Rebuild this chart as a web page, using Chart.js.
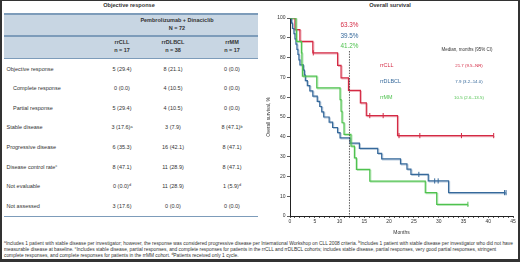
<!DOCTYPE html>
<html>
<head>
<meta charset="utf-8">
<script src="https://cdn.jsdelivr.net/npm/chart.js@4/dist/chart.umd.min.js"></script>
<style>
  html, body { margin: 0; padding: 0; background: #fff; }
  body { width: 520px; height: 262px; position: relative; overflow: hidden;
         font-family: "Liberation Sans", Arial, sans-serif; color: #333; }
  #frame { position: absolute; left: 0; top: 0; width: 520px; height: 262px; box-sizing: border-box;
           border-style: solid; border-color: #333; border-width: 1px 2px 3px 2px; }
  .t { position: absolute; white-space: nowrap; line-height: 1; }
  .band { position: absolute; left: 4px; width: 254px; background: #c8d6e3; }
  .rule { position: absolute; left: 4px; width: 254px; background: #7d9cba; }
  #chartWrap { position: absolute; left: 260px; top: 0; width: 258px; height: 240px; }
  #notes { position: absolute; left: 4px; top: 240.5px; font-size: 4.85px; line-height: 5px; white-space: nowrap; color: #333; }
  sup { font-size: 70%; vertical-align: 0; position: relative; top: -0.45em; }
</style>
</head>
<body>
<div id="frame"></div>

<div class="t" style="left:0;width:258px;text-align:center;top:3px;font-size:5.6px;font-weight:bold;">Objective response</div>
<div class="band" style="top:14px;height:45px;"></div>
<div class="rule" style="top:13px;height:1.5px;"></div>
<div class="rule" style="top:35px;height:1.5px;"></div>
<div class="rule" style="top:58px;height:1px;"></div>
<div class="rule" style="top:215.5px;height:1px;"></div>
<div id="table"></div>

<div class="t" style="left:262px;width:256px;text-align:center;top:3px;font-size:5.6px;font-weight:bold;">Overall survival</div>
<div id="chartWrap"><canvas id="km" width="258" height="240"></canvas></div>

<div id="notes">
<sup>a</sup>Includes 1 patient with stable disease per investigator; however, the response was considered progressive disease per International Workshop on CLL 2008 criteria. <sup>b</sup>Includes 1 patient with stable disease per investigator who did not have<br>
measurable disease at baseline. <sup>c</sup>Includes stable disease, partial responses, and complete responses for patients in the rrCLL and rrDLBCL cohorts; includes stable disease, partial responses, very good partial responses, stringent<br>
complete responses, and complete responses for patients in the rrMM cohort. <sup>d</sup>Patients received only 1 cycle.
</div>

<script>
// ---- table data ----
const cohorts = ['rrCLL', 'rrDLBCL', 'rrMM'];
const cohortN = ['n = 17', 'n = 38', 'n = 17'];
const rowLabels = ['Objective response', 'Complete response', 'Partial response', 'Stable disease',
  'Progressive disease', 'Disease control rate<sup>c</sup>', 'Not evaluable', 'Not assessed'];
const rowIndent = [0, 1, 1, 0, 0, 0, 0, 0];
const cllVals = ['5 (29.4)', '0 (0.0)', '5 (29.4)', '3 (17.6)<sup>a</sup>', '6 (35.3)', '8 (47.1)', '0 (0.0)<sup>d</sup>', '3 (17.6)'];
const dlbclVals = ['8 (21.1)', '4 (10.5)', '4 (10.5)', '3 (7.9)', '16 (42.1)', '11 (28.9)', '11 (28.9)', '0 (0.0)'];
const mmVals = ['0 (0.0)', '0 (0.0)', '0 (0.0)', '8 (47.1)<sup>b</sup>', '8 (47.1)', '8 (47.1)', '1 (5.9)<sup>d</sup>', '0 (0.0)'];

// ---- survival data (months, % surviving) ----
const cllMonths = [0, 1.0, 2.0, 4.6, 9.6, 10.3, 11.8, 14.2, 15.4, 21.7, 41.1];
const cllSurv   = [100, 94.1, 88.2, 82.4, 76.1, 69.8, 63.4, 57.1, 50.7, 40.6, 40.6];
const cllCensMonths = [4.7, 16.1, 18.8, 22.0, 26.2, 34.6, 41.1];
const cllCensSurv   = [82.4, 50.7, 50.7, 40.6, 40.6, 40.6, 40.6];

const dlbclMonths = [0, 0.3, 0.5, 0.8, 1.0, 1.2, 1.4, 1.6, 1.8, 2.0, 2.7, 2.9, 3.1, 3.5, 4.0, 4.6, 5.5, 6.0,
  6.4, 6.8, 7.9, 8.6, 9.6, 10.1, 12.1, 14.0, 17.7, 18.5, 22.3, 23.6, 24.4, 27.9, 32.0, 43.5];
const dlbclSurv   = [100, 97.4, 94.7, 92.1, 89.5, 86.8, 84.2, 81.6, 78.9, 76.3, 73.7, 71.1, 68.4, 65.8, 63.2, 60.5, 57.9, 55.3,
  52.6, 50.0, 47.4, 44.7, 42.1, 39.5, 36.8, 34.2, 31.6, 28.9, 26.3, 23.7, 21.0, 17.7, 11.8, 11.8];
const dlbclCensMonths = [26.0, 29.2, 29.9, 43.3, 43.6];
const dlbclCensSurv   = [21.0, 17.7, 17.7, 11.8, 11.8];

const mmMonths = [0, 1.2, 1.3, 2.3, 2.4, 2.5, 5.4, 10.1, 10.3, 10.5, 10.9, 12.3, 13.0, 13.4, 16.1, 27.3, 29.6, 35.9];
const mmSurv   = [100, 94.1, 88.2, 82.4, 76.5, 70.6, 64.7, 58.8, 52.9, 47.1, 41.2, 35.3, 29.4, 23.5, 17.6, 11.8, 5.9, 5.9];
const mmCensMonths = [35.9];
const mmCensSurv   = [5.9];

const landmark = 12;
const landmarkLabels = ['63.3%', '39.5%', '41.2%'];
const medians = ['21.7 (9.5–NR)', '7.9 (3.2–14.0)', '10.5 (2.6–13.5)'];

const colors = ['#d42a44', '#36699b', '#4fc24f'];
const shades = ['rgba(212,42,68,0.35)', 'rgba(54,105,155,0.35)', 'rgba(79,194,79,0.4)'];

// ---- build table ----
const tbl = document.getElementById('table');
function addText(html, x, y, opts) {
  const d = document.createElement('div');
  d.className = 't';
  d.innerHTML = html;
  d.style.top = y + 'px';
  d.style.fontSize = (opts.size || 5.5) + 'px';
  if (opts.bold) d.style.fontWeight = 'bold';
  if (opts.center) { d.style.left = (x - 40) + 'px'; d.style.width = '80px'; d.style.textAlign = 'center'; }
  else d.style.left = x + 'px';
  tbl.appendChild(d);
}
addText('Pembrolizumab + Dinaciclib', 177, 18, { center: true, bold: true });
addText('N = 72', 177, 26, { center: true, bold: true });
const colX = [122, 173, 232];
cohorts.forEach((c, i) => {
  addText(c, colX[i], 40, { center: true, bold: true });
  addText(cohortN[i], colX[i], 48, { center: true, bold: true });
});
rowLabels.forEach((lab, i) => {
  const y = 66.5 + i * 19.6;
  addText(lab, rowIndent[i] ? 13 : 6.5, y, {});
  addText(cllVals[i], colX[0], y, { center: true });
  addText(dlbclVals[i], colX[1], y, { center: true });
  addText(mmVals[i], colX[2], y, { center: true });
});

// ---- chart ----
const pts = (xs, ys) => xs.map((x, i) => ({ x: x, y: ys[i] }));

const shadowPlugin = {
  id: 'shadow',
  beforeDatasetDraw(chart, args) {
    const ds = chart.data.datasets[args.index];
    chart.ctx.save();
    if (ds.shade) {
      chart.ctx.shadowColor = ds.shade;
      chart.ctx.shadowOffsetX = 1;
      chart.ctx.shadowOffsetY = 1;
      chart.ctx.shadowBlur = 0;
    }
  },
  afterDatasetDraw(chart) { chart.ctx.restore(); }
};

const notePlugin = {
  id: 'notes',
  afterDraw(chart) {
    const { ctx, chartArea } = chart;
    const lx = chart.scales.x.getPixelForValue(landmark);
    ctx.save();
    ctx.strokeStyle = '#333';
    ctx.lineWidth = 0.8;
    ctx.setLineDash([1.5, 1.2]);
    ctx.beginPath();
    ctx.moveTo(lx, 51);
    ctx.lineTo(lx, chartArea.bottom);
    ctx.stroke();
    ctx.setLineDash([]);
    ctx.textBaseline = 'middle';
    ctx.textAlign = 'center';
    ctx.font = '6.4px "Liberation Sans", Arial, sans-serif';
    [25, 36, 46.7].forEach((y, i) => { ctx.fillStyle = colors[i]; ctx.fillText(landmarkLabels[i], lx, y); });
    ctx.fillStyle = '#333';
    ctx.font = '4.5px "Liberation Sans", Arial, sans-serif';
    ctx.fillText('Median, months (95% CI)', 207, 49.5);
    [65.3, 81.3, 97.7].forEach((y, i) => {
      ctx.fillStyle = colors[i];
      ctx.textAlign = 'left';
      ctx.font = '5.4px "Liberation Sans", Arial, sans-serif';
      ctx.fillText(cohorts[i], 120, y);
      ctx.textAlign = 'center';
      ctx.font = '4.4px "Liberation Sans", Arial, sans-serif';
      ctx.fillText(medians[i], 209, y);
    });
    ctx.restore();
  }
};

const lineDs = (d, i) => ({ type: 'line', data: d, borderColor: colors[i], borderWidth: 1.2, stepped: true,
  pointRadius: 0, fill: false, shade: shades[i] });
const censDs = (d, i) => ({ type: 'scatter', data: d, borderColor: colors[i], backgroundColor: colors[i],
  pointStyle: 'line', rotation: 90, pointRadius: 2.6, borderWidth: 1 });

new Chart(document.getElementById('km'), {
  type: 'line',
  data: {
    datasets: [
      lineDs(pts(mmMonths, mmSurv), 2),
      lineDs(pts(dlbclMonths, dlbclSurv), 1),
      lineDs(pts(cllMonths, cllSurv), 0),
      censDs(pts(mmCensMonths, mmCensSurv), 2),
      censDs(pts(dlbclCensMonths, dlbclCensSurv), 1),
      censDs(pts(cllCensMonths, cllCensSurv), 0)
    ]
  },
  plugins: [shadowPlugin, notePlugin],
  options: {
    responsive: false,
    animation: false,
    layout: { padding: { left: 6, right: 5, top: 18, bottom: 4 } },
    plugins: { legend: { display: false }, tooltip: { enabled: false } },
    scales: {
      x: {
        type: 'linear', min: 0, max: 45,
        ticks: { stepSize: 1, autoSkip: false, maxRotation: 0, padding: 1, color: '#333',
          font: { size: 5, family: '"Liberation Sans", Arial, sans-serif' },
          callback: v => (v % 5 === 0 ? v : '') },
        grid: { drawOnChartArea: false, tickLength: 2, color: '#333', lineWidth: 0.8 },
        border: { color: '#222', width: 1 },
        title: { display: true, text: 'Months', color: '#333', padding: { top: 1, bottom: 0 },
          font: { size: 5, family: '"Liberation Sans", Arial, sans-serif' } },
        afterFit: s => { s.height = 20; }
      },
      y: {
        min: 0, max: 100,
        ticks: { stepSize: 10, padding: 1.5, color: '#333',
          font: { size: 5, family: '"Liberation Sans", Arial, sans-serif' } },
        grid: { drawOnChartArea: false, tickLength: 3, color: '#333', lineWidth: 0.8 },
        border: { color: '#222', width: 1 },
        title: { display: true, text: 'Overall survival, %', color: '#333', padding: 0,
          font: { size: 4.8, family: '"Liberation Sans", Arial, sans-serif' } },
        afterFit: s => { s.width = 24; }
      }
    }
  }
});
</script>
</body>
</html>
